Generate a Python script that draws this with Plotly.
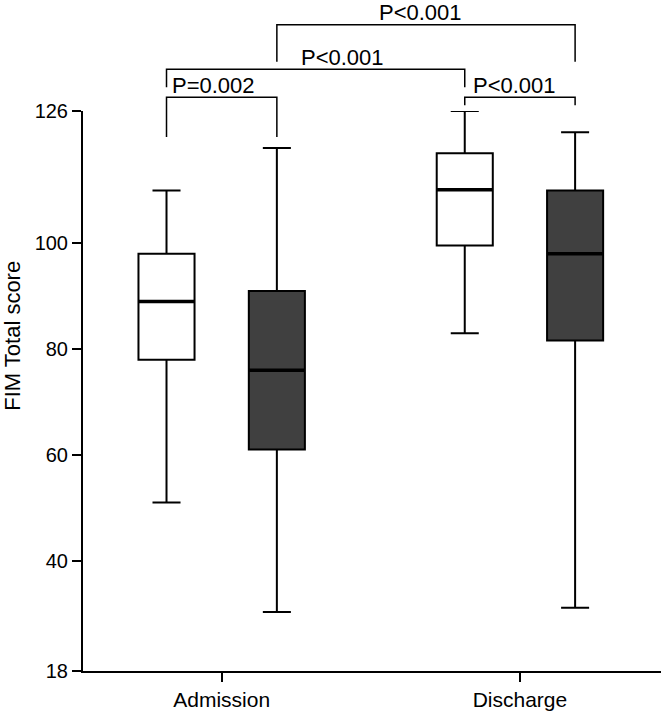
import plotly.graph_objects as go

# ---------------- data ----------------
categories = ["Admission", "Discharge"]

# white boxes (first group)
white_lower = [51, 83]
white_q1 = [78, 99.6]
white_median = [89, 110.1]
white_q3 = [98, 117]
white_upper = [110, 125]

# dark boxes (second group)
dark_lower = [30.3, 31.1]
dark_q1 = [61, 81.6]
dark_median = [76, 98]
dark_q3 = [91, 110]
dark_upper = [118, 121]

y_tick_values = [40, 60, 80, 100]
y_tick_labels = ["18", "40", "60", "80", "100", "126"]

p_labels = ["P<0.001", "P<0.001", "P=0.002", "P<0.001"]
y_title = "FIM Total score"

# ---------------- layout constants ----------------
W, H = 661, 711
PLOT_L, PLOT_T, PLOT_B = 83, 111, 674
X0, X1 = -0.465, 1.473
Y0, Y1 = 19.13, 125.01
OFFSET = 0.185
BOX_W = 0.188
FONT = "Liberation Sans"
DARK = "#404040"


def xp(x):
    return (x - X0) / (X1 - X0)


def yp(y):
    return (y - Y0) / (Y1 - Y0)


idx = list(range(len(categories)))
white_x = [i - OFFSET for i in idx]
dark_x = [i + OFFSET for i in idx]

fig = go.Figure()


def add_box(xs, lo, q1, med, q3, hi, fill):
    fig.add_trace(go.Box(
        x=xs, lowerfence=lo, q1=q1, median=med, q3=q3, upperfence=hi,
        width=BOX_W, whiskerwidth=0.5, fillcolor=fill,
        line=dict(color="black", width=2), boxpoints=False,
        showlegend=False, hoverinfo="skip",
    ))
    mx, my = [], []
    for x, m in zip(xs, med):
        mx += [x - BOX_W / 2, x + BOX_W / 2, None]
        my += [m, m, None]
    fig.add_trace(go.Scatter(x=mx, y=my, mode="lines",
                             line=dict(color="black", width=3.5),
                             showlegend=False, hoverinfo="skip"))


add_box(white_x, white_lower, white_q1, white_median, white_q3, white_upper, "white")
add_box(dark_x, dark_lower, dark_q1, dark_median, dark_q3, dark_upper, DARK)

# brackets: (x_left, x_right, bar_y, left_drop_y, right_drop_y, text_x, text_y)
brackets = [
    (dark_x[0], dark_x[1], 141.3, 134.3, 134.3, 0.667, 143.7),
    (white_x[0], white_x[1], 132.9, 129.5, 129.5, 0.406, 135.2),
    (white_x[0], dark_x[0], 127.6, 120.1, 120.1, -0.028, 129.9),
    (white_x[1], dark_x[1], 127.6, 126.1, 126.1, 0.983, 129.9),
]

shapes = []
annotations = []
for (xa, xb, yb, yl, yr, tx, ty), lab in zip(brackets, p_labels):
    path = "M {:.5f},{:.5f} L {:.5f},{:.5f} L {:.5f},{:.5f} L {:.5f},{:.5f}".format(
        xp(xa), yp(yl), xp(xa), yp(yb), xp(xb), yp(yb), xp(xb), yp(yr))
    shapes.append(dict(type="path", path=path, xref="paper", yref="paper",
                       line=dict(color="black", width=1.5)))
    annotations.append(dict(x=xp(tx), y=yp(ty), xref="paper", yref="paper",
                            text=lab, showarrow=False, xanchor="center",
                            yanchor="middle",
                            font=dict(family=FONT, size=22, color="black")))

# y-axis title (placed as rotated text, centred where the reference has it)
plot_w = W - PLOT_L
plot_h = PLOT_B - PLOT_T
annotations.append(dict(
    x=(13 - PLOT_L) / plot_w, y=(PLOT_B - 337) / plot_h,
    xref="paper", yref="paper", text=y_title, textangle=-90,
    showarrow=False, xanchor="center", yanchor="middle",
    font=dict(family=FONT, size=22, color="black")))

fig.update_layout(
    width=W, height=H,
    margin=dict(l=PLOT_L, r=0, t=PLOT_T, b=H - PLOT_B),
    paper_bgcolor="white", plot_bgcolor="white",
    boxmode="overlay",
    font=dict(family=FONT, size=20, color="black"),
    shapes=shapes, annotations=annotations,
    xaxis=dict(
        range=[X0, X1], tickmode="array", tickvals=idx, ticktext=categories,
        showline=True, linecolor="black", linewidth=2,
        ticks="outside", ticklen=9, tickwidth=2, tickcolor="black",
        showgrid=False, zeroline=False,
        tickfont=dict(family=FONT, size=21, color="black"),
    ),
    yaxis=dict(
        range=[Y0, Y1], tickmode="array",
        tickvals=[Y0] + y_tick_values + [Y1], ticktext=y_tick_labels,
        showline=True, linecolor="black", linewidth=2,
        ticks="outside", ticklen=9, tickwidth=2, tickcolor="black",
        showgrid=False, zeroline=False,
        tickfont=dict(family=FONT, size=20, color="black"),
        automargin=False,
    ),
)

fig.write_html("out.html",
               config={"displayModeBar": False},
               post_script="document.body.style.margin='0';"
                           "document.body.style.overflow='hidden';")
